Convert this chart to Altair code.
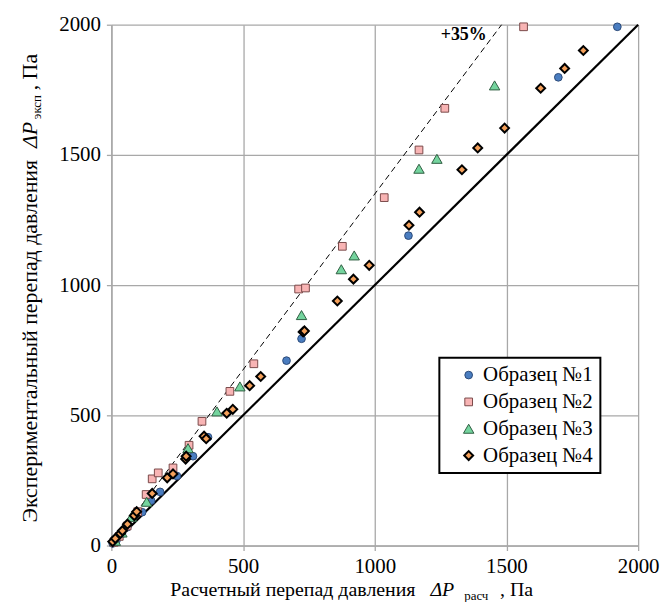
import altair as alt
import pandas as pd

series = ["Образец №1", "Образец №2", "Образец №3", "Образец №4"]
shapes = ["circle", "square", "triangle-up", "diamond"]
fills = ["#4a7dc0", "#f8b4b4", "#74d49e", "#f4a05a"]
strokes = ["#2b4a78", "#7a4a4a", "#2f5e42", "#000000"]
stroke_widths = [1, 1, 1, 2]
sizes = [60, 60, 110, 80]

s1_x = [5, 20, 40, 60, 117, 151, 185, 249, 310, 367, 665, 722, 1128, 1697, 1921]
s1_y = [8, 22, 45, 70, 128, 172, 206, 267, 343, 416, 710, 794, 1190, 1798, 1992]

s2_x = [10, 30, 60, 100, 132, 155, 178, 234, 295, 344, 450, 541, 711, 737, 877, 1036, 1168, 1266, 1565]
s2_y = [12, 35, 75, 130, 196, 256, 279, 298, 385, 477, 592, 698, 985, 989, 1149, 1336, 1519, 1679, 1992]

s3_x = [15, 40, 76, 134, 291, 401, 488, 722, 873, 922, 1168, 1236, 1455]
s3_y = [18, 50, 110, 168, 374, 515, 611, 885, 1061, 1114, 1447, 1485, 1767]

s4_x = [5, 15, 34, 42, 61, 87, 96, 155, 212, 234, 282, 284, 352, 360, 438, 461, 525, 567,
        728, 733, 858, 919, 979, 1130, 1170, 1331, 1391, 1493, 1630, 1721, 1792]
s4_y = [15, 27, 46, 57, 82, 115, 130, 200, 260, 275, 332, 343, 420, 410, 508, 523, 614, 649,
        820, 824, 939, 1023, 1076, 1230, 1280, 1443, 1527, 1603, 1756, 1832, 1901]

equal_x = [0, 2000]
equal_y = [0, 2000]
plus35_x = [0, 1481.5]
plus35_y = [0, 2000]

ticks = [0, 500, 1000, 1500, 2000]
label_35 = ["+35%"]
label_35_x = [1425]
label_35_y = [1960]

x_title_parts = ["Расчетный перепад давления", "ΔP", "расч", ", Па"]
y_title_parts = ["Экспериментальный перепад давления", "ΔP", "эксп", ", Па"]

FONT = "Liberation Serif"
GRID = "#a8a8a8"

rows = []
for name, xs, ys in zip(series, [s1_x, s2_x, s3_x, s4_x], [s1_y, s2_y, s3_y, s4_y]):
    for a, b in zip(xs, ys):
        rows.append({"series": name, "calc": a, "exp": b})
df = pd.DataFrame(rows)

xscale = alt.Scale(domain=[0, 2000], nice=False, zero=False)
yscale = alt.Scale(domain=[0, 2000], nice=False, zero=False)

axis_common = dict(values=ticks, format="d", title=None, labelFont=FONT, labelFontSize=21,
                   labelColor="black", tickColor=GRID, tickSize=5, tickWidth=1.3,
                   domainColor=GRID, domainWidth=1.5, gridColor=GRID, gridWidth=1.3,
                   labelFlush=False, labelOverlap=False)
xaxis = alt.Axis(labelPadding=5, **axis_common)
yaxis = alt.Axis(labelPadding=6, **axis_common)

legend = alt.Legend(title=None, orient="none", legendX=330, legendY=335,
                    labelFont=FONT, labelFontSize=21, labelColor="black",
                    strokeColor="black", fillColor="white", padding=7,
                    rowPadding=5, symbolOffset=12, labelOffset=4)

dom = series
points = alt.Chart(df).mark_point(filled=True, opacity=1).encode(
    x=alt.X("calc:Q", scale=xscale, axis=xaxis),
    y=alt.Y("exp:Q", scale=yscale, axis=yaxis),
    shape=alt.Shape("series:N", scale=alt.Scale(domain=dom, range=shapes), legend=legend),
    fill=alt.Fill("series:N", scale=alt.Scale(domain=dom, range=fills), legend=legend),
    stroke=alt.Stroke("series:N", scale=alt.Scale(domain=dom, range=strokes), legend=legend),
    strokeWidth=alt.StrokeWidth("series:N", scale=alt.Scale(type="ordinal", domain=dom, range=stroke_widths), legend=legend),
    size=alt.Size("series:N", scale=alt.Scale(type="ordinal", domain=dom, range=sizes), legend=legend),
)

eq_line = alt.Chart(pd.DataFrame({"x": equal_x, "y": equal_y})).mark_line(
    color="black", strokeWidth=2.2).encode(
    x=alt.X("x:Q", scale=xscale), y=alt.Y("y:Q", scale=yscale))

dash_line = alt.Chart(pd.DataFrame({"x": plus35_x, "y": plus35_y})).mark_line(
    color="black", strokeWidth=1, strokeDash=[6, 4]).encode(
    x=alt.X("x:Q", scale=xscale), y=alt.Y("y:Q", scale=yscale))

lbl35 = alt.Chart(pd.DataFrame({"x": label_35_x, "y": label_35_y, "t": label_35})).mark_text(
    font=FONT, fontSize=18, fontWeight="bold", align="right", baseline="middle", color="black").encode(
    x=alt.X("x:Q", scale=xscale), y=alt.Y("y:Q", scale=yscale), text="t:N")


def piece(text, x, y, size=20, italic=False, align="left", angle=0):
    kw = dict(font=FONT, fontSize=size, align=align, baseline="alphabetic", color="black")
    if italic:
        kw["fontStyle"] = "italic"
    if angle:
        kw["angle"] = angle
    return alt.Chart(pd.DataFrame({"t": [text]})).mark_text(**kw).encode(
        x=alt.value(x), y=alt.value(y), text="t:N")


xt = [
    piece(x_title_parts[0], 306, 575, align="right"),
    piece(x_title_parts[1], 321, 575, italic=True),
    piece(x_title_parts[2], 355, 579, size=13),
    piece(x_title_parts[3], 391, 575),
]
yt = [
    piece(y_title_parts[0], -75, 136, size=22, align="right", angle=270),
    piece(y_title_parts[1], -75, 124, size=22, italic=True, angle=270),
    piece(y_title_parts[2], -71, 95, size=13, angle=270),
    piece(y_title_parts[3], -75, 66, size=22, angle=270),
]

chart = alt.layer(dash_line, eq_line, points, lbl35, *xt, *yt).properties(
    width=530, height=524,
    autosize=alt.AutoSizeParams(type="none"),
    padding={"left": 104, "top": 15, "right": 22, "bottom": 55},
).configure_view(stroke=None).configure_legend(strokeWidth=2)

chart.save("out.html", embed_options={"renderer": "svg", "actions": False})
